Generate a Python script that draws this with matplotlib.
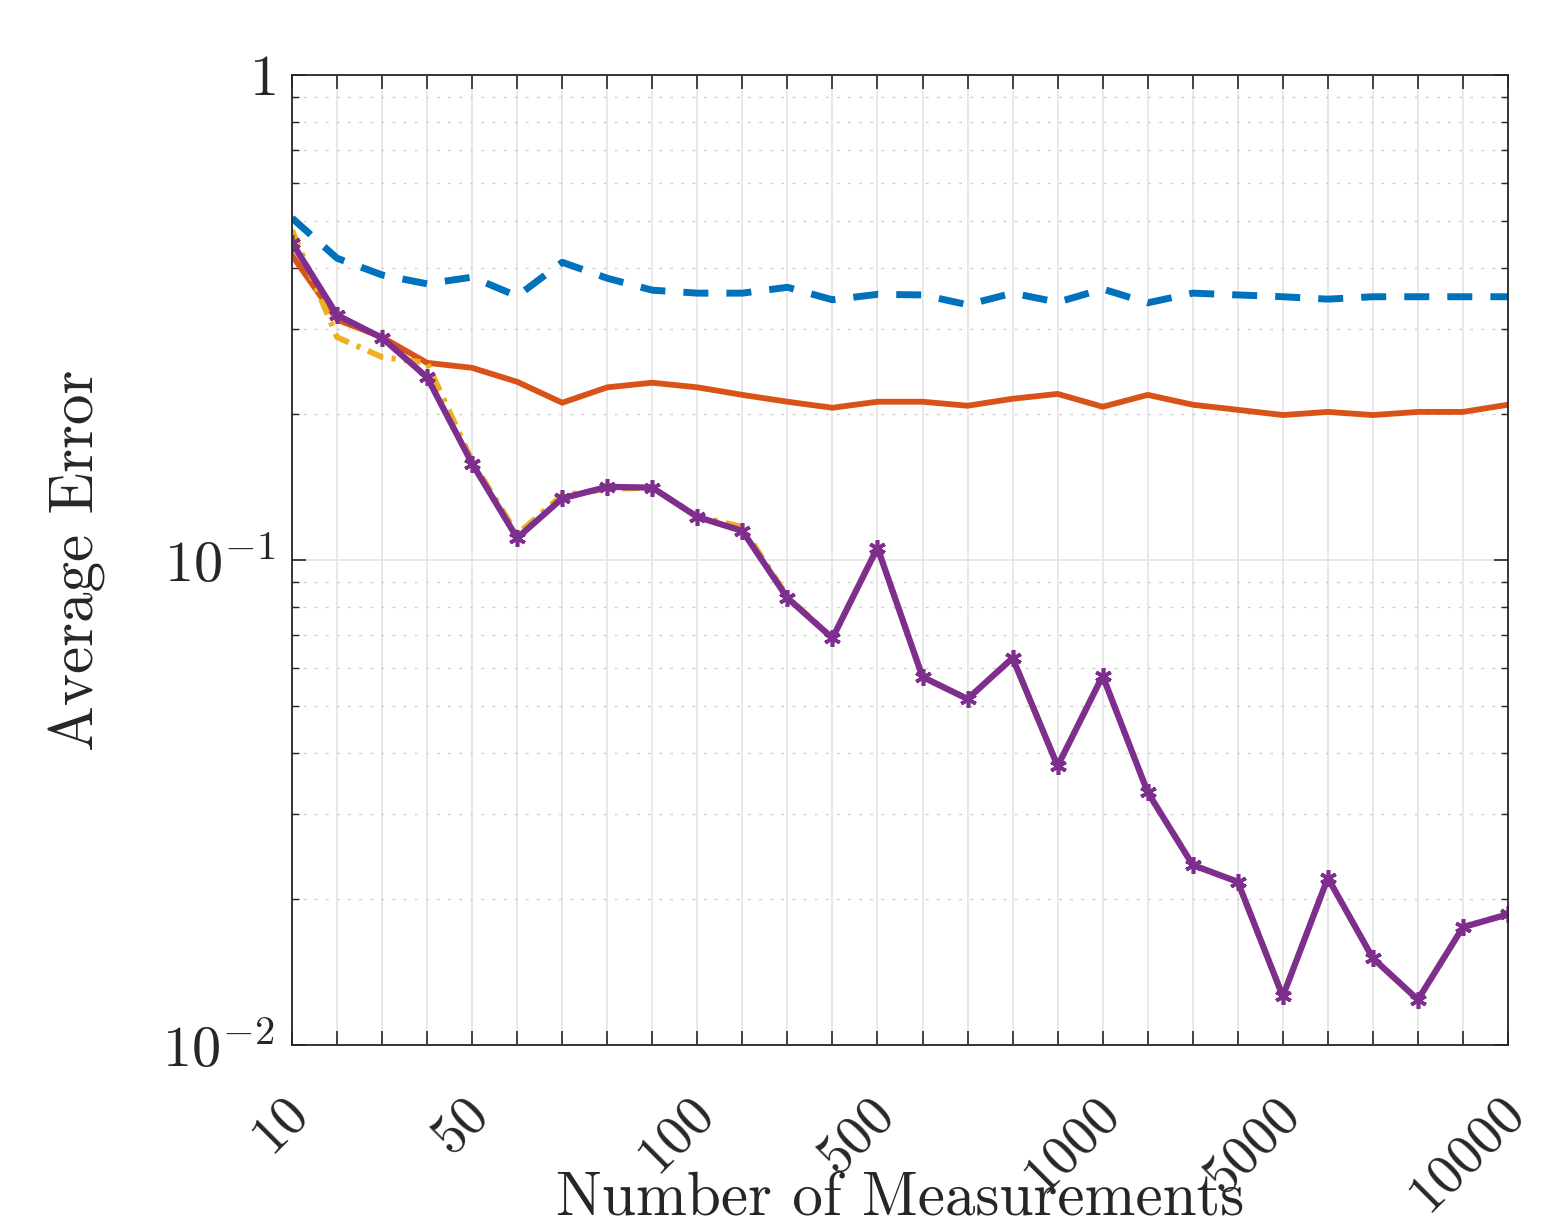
import matplotlib
matplotlib.use('Agg')
import matplotlib.pyplot as plt
import matplotlib.transforms as mtransforms
import numpy as np
from matplotlib.ticker import LogLocator, NullFormatter

# number of measurements (plotted on equally spaced positions)
measurements = [10, 20, 30, 40, 50, 60, 70, 80, 90, 100,
                200, 300, 400, 500, 600, 700, 800, 900, 1000,
                2000, 3000, 4000, 5000, 6000, 7000, 8000, 9000, 10000]
shown_labels = [10, 50, 100, 500, 1000, 5000, 10000]

err_blue = [0.507, 0.419, 0.387, 0.371, 0.383, 0.350, 0.411, 0.381, 0.360, 0.355,
            0.355, 0.365, 0.344, 0.353, 0.352, 0.336, 0.355, 0.340, 0.362,
            0.339, 0.355, 0.352, 0.349, 0.345, 0.349, 0.349, 0.349, 0.349]
err_orange = [0.425, 0.313, 0.288, 0.255, 0.249, 0.233, 0.211, 0.227, 0.232, 0.227,
              0.219, 0.212, 0.206, 0.212, 0.212, 0.208, 0.215, 0.220, 0.207,
              0.219, 0.209, 0.204, 0.199, 0.202, 0.199, 0.202, 0.202, 0.209]
err_yellow = [0.479, 0.288, 0.262, 0.255, 0.160, 0.113, 0.136, 0.140, 0.141, 0.123,
              0.117, 0.0840, 0.0690, 0.106, 0.0574, 0.0517, 0.0628, 0.0376, 0.0577,
              0.0332, 0.0235, 0.0217, 0.0126, 0.0221, 0.0151, 0.0124, 0.0175, 0.0186]
err_purple = [0.451, 0.320, 0.287, 0.238, 0.158, 0.111, 0.134, 0.1415, 0.141, 0.1227,
              0.1148, 0.0835, 0.0690, 0.106, 0.0574, 0.0517, 0.0628, 0.0376, 0.0577,
              0.0332, 0.0235, 0.0217, 0.0126, 0.0221, 0.0151, 0.0124, 0.0175, 0.0186]

plt.rcParams['font.family'] = ['cmr10', 'DejaVu Serif']
plt.rcParams['mathtext.fontset'] = 'cm'
plt.rcParams['axes.formatter.use_mathtext'] = True
plt.rcParams['lines.scale_dashes'] = False

fig = plt.figure(figsize=(15.6, 12.21), dpi=100)
ax = fig.add_axes([292 / 1560, 1 - 1045 / 1221, 1216 / 1560, 970 / 1221])

x = np.arange(len(measurements))
ax.plot(x, err_blue, color='#0072BD', linewidth=5, dashes=(18, 13))
ax.plot(x, err_orange, color='#D95319', linewidth=4.2)
ax.plot(x, err_yellow, color='#EDB120', linewidth=4.2, dashes=(12, 6, 3, 6))
ax.plot(x, err_purple, color='#7E2F8E', linewidth=4.5,
        marker=(6, 2, 0), markersize=12, markeredgewidth=2.6)

ax.set_yscale('log')
ax.set_ylim(0.01, 1)
ax.set_xlim(0, len(measurements) - 1)

ax.set_yticks([0.01, 0.1, 1])
ax.set_yticklabels(['$10^{-2}$', '$10^{-1}$', '$1$'])
ax.yaxis.set_minor_locator(LogLocator(base=10, subs=np.arange(2, 10)))
ax.yaxis.set_minor_formatter(NullFormatter())

# every position gets a tick and grid line, only some get a rotated label
ax.set_xticks(x)
ax.set_xticklabels([])
lbl_trans = ax.get_xaxis_transform() + mtransforms.ScaledTranslation(-0.08, -0.47, fig.dpi_scale_trans)
for xi, m in zip(x, measurements):
    if m in shown_labels:
        ax.text(xi, 0, '$%d$' % m, transform=lbl_trans, rotation=45, fontsize=40,
                ha='right', va='top', rotation_mode='anchor', color='#262626')

ax.tick_params(axis='both', which='both', direction='in', top=True, right=True,
               colors='#262626', labelcolor='#262626')
ax.tick_params(axis='x', which='major', length=10, width=1.2)
ax.tick_params(axis='y', which='major', length=10, width=1.2, labelsize=42, pad=12)
ax.tick_params(axis='y', which='minor', length=5, width=1.0)

ax.grid(True, which='major', axis='both', color='#e6e6e6', linewidth=1.3)
ax.grid(True, which='minor', axis='y', color='#cfcfcf', linestyle=(0, (2, 6)), linewidth=1.0)
ax.set_axisbelow(True)
for s in ax.spines.values():
    s.set_color('#262626')
    s.set_linewidth(1.3)

fig.text(900 / 1560, 0.005, 'Number of Measurements', ha='center', va='baseline',
         fontsize=44, color='#262626')
fig.text(78 / 1560, 1 - 560 / 1221, 'Average Error', ha='center', va='center',
         rotation=90, fontsize=44, color='#262626')

fig.savefig('out.png', dpi=100)
